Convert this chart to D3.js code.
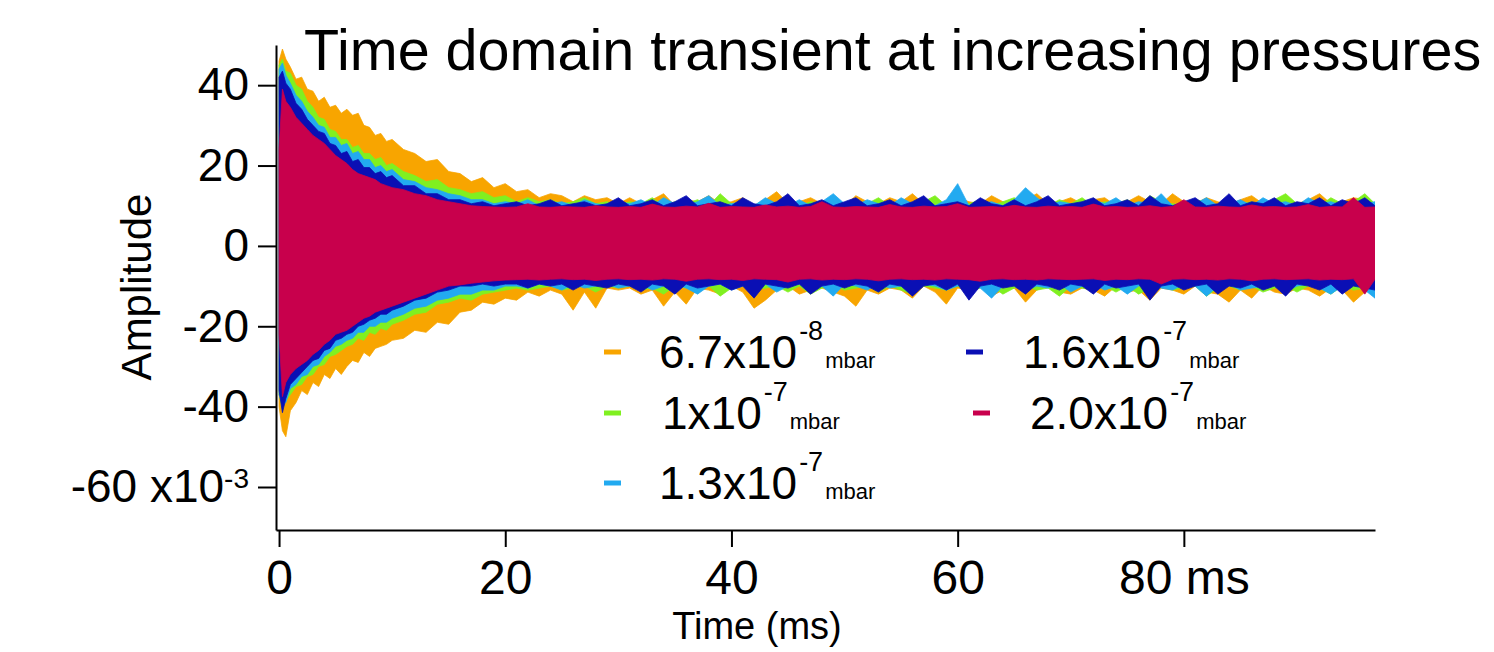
<!DOCTYPE html>
<html lang="en">
<head>
<meta charset="UTF-8" />
<script src="https://d3js.org/d3.v7.min.js"></script>
<title>Time domain transient</title>
<style>
  body { margin: 0; background: #fff; font-family: Arial, "Liberation Sans", sans-serif; }
  .axis path, .axis line { stroke: #000; stroke-width: 2; }
  .axis text { fill: #000; font-family: Arial, "Liberation Sans", sans-serif; }
</style>
</head>
<body>
<svg width="1494" height="652"></svg>
<script>
// time axis of the transient (ms)
const times = [0, 0.3, 0.6, 1, 1.5, 2, 2.5, 3, 3.5, 4, 4.5, 5, 5.5, 6, 6.5, 7, 7.5, 8, 8.5, 9, 9.5, 10,
  11, 12, 13, 14, 15, 16, 17, 18, 19, 20, 21, 22, 23, 24, 25, 26, 27, 28, 29, 30,
  31, 32, 33, 34, 35, 36, 37, 38, 39, 40, 41, 42, 43, 44, 45, 46, 47, 48, 49, 50,
  51, 52, 53, 54, 55, 56, 57, 58, 59, 60, 61, 62, 63, 64, 65, 66, 67, 68, 69, 70,
  71, 72, 73, 74, 75, 76, 77, 78, 79, 80, 81, 82, 83, 84, 85, 86, 87, 88, 89, 90,
  91, 92, 93, 94, 95, 96, 96.9];

// upper / lower envelope of each transient (x10^-3)
const orangeUp = [46, 49, 46.5, 44.5, 41.5, 42, 39, 38.5, 36, 37, 34.5, 35, 33, 34, 32.5, 33, 30, 29.5, 27.5, 28, 26, 26.5,
  24, 23, 21, 21.5, 18.5, 18, 16, 17, 14.5, 15.5, 13.5, 14, 12, 13, 12.5, 11, 12.5, 11.5, 12, 10.5,
  12, 10.5, 11.5, 13, 10, 11.5, 11, 12.5, 10.5, 11, 12, 10, 11.5, 13.5, 10.5, 11, 12, 10.5, 11.5, 10,
  12.5, 11, 10.5, 12, 11, 13, 10.5, 11.5, 10, 12, 11, 10.5, 12.5, 11, 10, 11.5, 13, 10.5, 11, 12,
  10.5, 11.5, 12, 10, 11, 12.5, 11, 10.5, 13, 11, 10.5, 12, 11, 10, 11.5, 12.5, 10.5, 11, 12, 10.5,
  11.5, 13, 10.5, 11, 12, 11.5, 10.5];
const orangeLo = [-40, -46, -47.5, -41, -39, -36, -37, -34, -35, -32, -33, -30.5, -32, -30, -28.5, -29, -26.5, -27.5, -25.5, -25, -24.5, -23.5,
  -23, -21, -21.5, -19, -19.5, -16.5, -16, -14, -14.5, -13, -13.5, -11.5, -12.5, -11, -12, -16, -11.5, -15.5, -10.5, -11,
  -10.5, -12, -11, -15, -11.5, -14.5, -10.5, -11, -12, -10, -11.5, -15.5, -13.5, -11, -10, -12, -11, -10.5, -11.5, -12.5,
  -15, -11, -12, -10.5, -11, -13, -10, -11.5, -14.5, -10.5, -11, -10, -12.5, -11, -10.5, -14, -11, -10, -11.5, -12,
  -10.5, -11, -12.5, -10, -11.5, -11, -13.5, -10.5, -11, -12, -10, -11.5, -12, -14, -11, -13, -10, -11.5, -12, -10.5,
  -11, -12.5, -10.5, -11, -14, -11.5, -10];
const greenUp = [45, 46.5, 43.5, 43, 40, 39, 36, 34.5, 32, 31.5, 29, 28.5, 26.5, 26.5, 24.5, 25, 23, 23, 21.5, 22, 20, 20.5,
  18.5, 17.5, 16, 16.5, 14.5, 14, 13, 13.5, 12, 12.5, 11, 12, 11, 11.5, 10.5, 11, 12, 10.5, 11, 10,
  11, 10.5, 12, 10, 11, 10.5, 11.5, 10, 13, 10.5, 11, 10, 11.5, 10.5, 12, 10, 11, 10.5, 12.5, 10,
  11, 10.5, 12, 10, 11.5, 10.5, 11, 12.5, 10, 11, 10.5, 11.5, 10, 11, 12, 10.5, 11, 10, 11.5, 10.5,
  12, 10, 11, 10.5, 11.5, 10, 12.5, 11, 10.5, 10, 11.5, 11, 10, 12, 10.5, 11, 10, 11.5, 13, 10.5,
  11, 10, 12, 10.5, 11, 13, 10.5];
const greenLo = [-37, -40.5, -38.5, -37, -35, -34.5, -32.5, -32, -30, -29.5, -27.5, -27, -26, -25, -24.5, -23, -23.5, -21.5, -22, -20.5, -21, -19.5,
  -18.5, -17, -16.5, -14.5, -14, -13, -13.5, -12, -11.5, -11, -10.5, -11, -10.5, -10, -11, -10.5, -10, -11.5, -10, -10.5,
  -10, -11, -10.5, -12, -10, -10.5, -11, -10, -12.5, -10.5, -10, -11, -10.5, -10, -11.5, -10, -12, -10.5, -10, -11,
  -10.5, -10, -11.5, -10, -11, -12, -10, -10.5, -11, -10, -11.5, -10.5, -10, -12, -10.5, -10, -11, -10.5, -12.5, -10,
  -10.5, -11, -10, -11.5, -10, -12, -10.5, -10, -11, -10.5, -10, -12.5, -10.5, -10, -11, -10, -11.5, -10.5, -10, -11.5,
  -10, -10.5, -12, -10, -11, -10.5, -12.5];
const lightBlueUp = [44, 45.5, 42.5, 40.5, 37.5, 36, 33.5, 32, 30, 29.5, 27, 27, 25, 25.5, 23, 23.5, 21.5, 21.5, 19.5, 20, 18.5, 19,
  16.5, 16, 14.5, 14, 13, 12.5, 11.5, 11.5, 10.5, 11, 10.5, 11.5, 10, 10.5, 11, 10, 11.5, 10.5, 10, 11,
  10.5, 11.5, 10, 12, 10.5, 10, 11, 12.5, 10, 10.5, 11, 10, 12, 10.5, 10, 11.5, 10, 11, 13, 10.5,
  10, 11.5, 10.5, 10, 12, 10.5, 11, 10, 11.5, 15.5, 10, 10.5, 11, 10, 11.5, 14.5, 12, 10, 11, 10.5,
  10, 11.5, 10.5, 12, 10, 11, 10.5, 13, 10, 11, 10.5, 12, 10, 10.5, 11.5, 10, 12, 10.5, 11, 10,
  12, 10.5, 11, 10, 11.5, 10.5, 11];
const lightBlueLo = [-37, -39.5, -39, -35.5, -34.5, -32.5, -32, -30, -29.5, -27.5, -26.5, -25, -24.5, -23.5, -23, -21.5, -21.5, -20, -20, -19, -19, -18,
  -17, -15.5, -15, -13.5, -13, -12, -12, -11, -11, -10, -10, -10.5, -9.5, -10, -11, -9.5, -10.5, -10, -9.5, -10.5,
  -10, -9.5, -11, -10, -9.5, -10.5, -12, -10, -9.5, -11, -10, -10.5, -9.5, -11.5, -10, -9.5, -10.5, -10, -12.5, -9.5,
  -10, -11, -9.5, -10.5, -10, -12, -9.5, -10, -11, -10, -9.5, -10.5, -13, -10, -9.5, -11, -10, -10.5, -9.5, -11.5,
  -10, -9.5, -11, -10, -12, -10, -9.5, -10.5, -11, -9.5, -10, -12.5, -10, -9.5, -11, -10.5, -10, -9.5, -11.5, -10,
  -9.5, -10.5, -12, -10, -9.5, -11, -13];
const darkBlueUp = [42, 43.5, 40.5, 39, 35.5, 34, 31.5, 30, 28.5, 28, 25.5, 25, 23, 23.5, 21, 21.5, 19.5, 19.5, 18, 18.5, 17, 17.5,
  15, 15, 13, 13, 11.5, 11.5, 10.5, 11, 10, 10.5, 11, 10, 10.5, 11.5, 10, 10.5, 11, 10, 10.5, 12,
  10, 10.5, 11.5, 10, 11, 12.5, 10, 10.5, 11, 10, 12, 10.5, 10, 11, 13, 10, 10.5, 11.5, 10, 11,
  12, 10, 10.5, 11.5, 10, 11, 12.5, 10, 10.5, 11, 10, 12, 10.5, 10, 11.5, 10, 11, 12.5, 10, 10.5,
  11, 12, 10, 10.5, 11.5, 10, 12.5, 10.5, 10, 11, 12, 10, 10.5, 13, 10, 11, 10.5, 12, 10, 11,
  10.5, 12, 10, 11.5, 10.5, 12, 10];
const darkBlueLo = [-36, -41.5, -38, -34.5, -33, -31.5, -30, -28.5, -28, -26, -25.5, -23.5, -23, -22, -21.5, -20, -19.5, -18.5, -18, -17, -17, -16,
  -15, -13.5, -13, -11.5, -11, -10, -10, -9.5, -10, -9.5, -9.5, -10.5, -9.5, -10, -9.5, -11, -9.5, -10, -10.5, -9.5,
  -10, -11.5, -9.5, -10, -12, -9.5, -10.5, -10, -9.5, -11, -10, -13, -9.5, -10, -10.5, -9.5, -12, -10, -9.5, -10.5,
  -9.5, -10, -11.5, -9.5, -10, -12.5, -10, -9.5, -11, -9.5, -13.5, -10, -9.5, -10.5, -10, -12, -9.5, -10, -11, -9.5,
  -10, -12, -9.5, -10.5, -10, -9.5, -13.5, -10, -9.5, -11, -10, -9.5, -12, -10, -10.5, -9.5, -11, -10, -12.5, -9.5,
  -10, -11, -9.5, -12, -10, -10.5, -11];
const crimsonUp = [24, 39, 36, 34.5, 32, 30.5, 29, 27.5, 26.5, 25.5, 24, 22.5, 21.5, 20.5, 19, 18, 17.5, 17, 16.5, 15.5, 15, 14.5,
  14, 13, 12.5, 11.5, 11, 10.5, 10, 9.8, 9.7, 9.6, 9.7, 10.5, 9.7, 9.6, 9.8, 9.7, 9.6, 10, 9.7, 9.6,
  9.8, 9.6, 10.4, 9.7, 9.6, 9.9, 9.7, 10.6, 9.6, 9.8, 9.7, 9.6, 10.2, 9.7, 9.9, 9.6, 9.8, 11, 9.7, 9.6,
  9.8, 9.7, 9.6, 10.3, 9.7, 9.6, 9.9, 9.7, 9.8, 10.5, 9.6, 9.7, 9.8, 9.6, 10.1, 9.7, 9.6, 9.9, 9.7, 9.8,
  9.6, 10.4, 9.7, 9.8, 9.6, 9.7, 10, 9.6, 9.8, 11.5, 9.7, 9.6, 9.9, 9.7, 9.6, 10.2, 9.7, 9.8, 9.6, 9.7,
  10.3, 9.6, 9.8, 9.7, 12, 9.6, 9.7];
const crimsonLo = [-22, -37.5, -34, -32, -30.5, -29.5, -28.5, -27, -26, -24.5, -23.5, -22, -21.5, -21, -20, -19, -18, -17.5, -16.5, -16, -15.5, -15,
  -14, -13, -12, -11, -10, -9.7, -9.3, -9, -8.7, -8.5, -8.4, -8.3, -8.5, -8.3, -8.2, -8.4, -8.3, -8.6, -8.3, -8.2,
  -8.4, -8.3, -8.5, -8.2, -8.3, -8.8, -8.3, -8.2, -8.4, -8.3, -8.6, -8.2, -8.3, -8.4, -9, -8.3, -8.2, -8.5, -8.3, -8.4,
  -8.2, -8.3, -8.7, -8.3, -8.2, -8.4, -8.3, -8.5, -8.2, -8.3, -8.4, -8.8, -8.3, -8.2, -8.4, -8.3, -8.5, -8.2, -8.3, -8.4,
  -8.3, -8.2, -8.6, -8.3, -8.4, -8.2, -8.3, -9.5, -8.3, -8.2, -8.4, -8.3, -8.5, -8.2, -8.3, -8.7, -8.3, -8.2, -8.4, -8.3,
  -8.2, -8.5, -8.3, -8.4, -8.2, -12, -8.3];

const labels = ["6.7x10", "1x10", "1.3x10", "1.6x10", "2.0x10"];
const exponents = ["-8", "-7", "-7", "-7", "-7"];
const unit = "mbar";
const colors = ["#f8a500", "#80f020", "#22aaf0", "#0a0fb4", "#c8004c"];

const xTicks = [0, 20, 40, 60, 80];
const yTicks = [-60, -40, -20, 0, 20, 40];

const series = [
  { up: orangeUp, lo: orangeLo },
  { up: greenUp, lo: greenLo },
  { up: lightBlueUp, lo: lightBlueLo },
  { up: darkBlueUp, lo: darkBlueLo },
  { up: crimsonUp, lo: crimsonLo },
];

const svg = d3.select("svg");
const plotLeft = 276, plotRight = 1375, plotTop = 45, plotBottom = 530;

const x = d3.scaleLinear().domain([-0.27, 96.9]).range([plotLeft, plotRight]);
const y = d3.scaleLinear().domain([-70.7, 50]).range([plotBottom, plotTop]);

svg.append("clipPath").attr("id", "plot")
  .append("rect").attr("x", plotLeft).attr("y", plotTop)
  .attr("width", plotRight - plotLeft).attr("height", plotBottom - plotTop);

const area = d3.area()
  .x((d, i) => x(times[i]))
  .y0(d => y(d[0]))
  .y1(d => y(d[1]));

svg.append("g").attr("clip-path", "url(#plot)")
  .selectAll("path")
  .data(series)
  .join("path")
  .attr("d", s => area(s.lo.map((v, i) => [v, s.up[i]])))
  .attr("fill", (s, i) => colors[i])
  .attr("stroke", (s, i) => colors[i])
  .attr("stroke-width", 0.8);

// axes
const yAxis = svg.append("g").attr("class", "axis")
  .attr("transform", `translate(${plotLeft},0)`)
  .call(d3.axisLeft(y).tickValues(yTicks).tickSizeInner(18).tickSizeOuter(0).tickPadding(9)
    .tickFormat(d => d));
yAxis.selectAll("text").style("font-size", "46px");
yAxis.selectAll(".tick").filter(d => d === -60).select("text")
  .text(null)
  .call(t => {
    t.append("tspan").text("-60 x10");
    t.append("tspan").attr("dy", "-0.5em").style("font-size", "28px").text("-3");
  });

const xAxis = svg.append("g").attr("class", "axis")
  .attr("transform", `translate(0,${plotBottom})`)
  .call(d3.axisBottom(x).tickValues(xTicks).tickSizeInner(17).tickSizeOuter(0).tickPadding(13)
    .tickFormat(d => d === 80 ? "80 ms" : d));
xAxis.selectAll("text").style("font-size", "48px");

// titles
svg.append("text")
  .attr("x", 304).attr("y", 70)
  .style("font-size", "57.5px")
  .text("Time domain transient at increasing pressures");

svg.append("text")
  .attr("transform", "translate(151,287) rotate(-90)")
  .attr("text-anchor", "middle")
  .style("font-size", "42px")
  .text("Amplitude");

svg.append("text")
  .attr("x", 757).attr("y", 639)
  .attr("text-anchor", "middle")
  .style("font-size", "38px")
  .text("Time (ms)");

// legend
const legendPos = [
  { mx: 604, tx: 659, y: 352 },
  { mx: 604, tx: 662, y: 413 },
  { mx: 604, tx: 659, y: 483 },
  { mx: 966, tx: 1023, y: 352 },
  { mx: 973, tx: 1030, y: 413 },
];
const legend = svg.append("g");
labels.forEach((lab, i) => {
  const p = legendPos[i];
  legend.append("line")
    .attr("x1", p.mx).attr("x2", p.mx + 17)
    .attr("y1", p.y).attr("y2", p.y)
    .attr("stroke", colors[i]).attr("stroke-width", 5);
  const t = legend.append("text")
    .attr("x", p.tx).attr("y", p.y + 16)
    .style("font-size", "46px");
  t.append("tspan").text(lab);
  t.append("tspan").attr("dy", -28).attr("dx", 2).style("font-size", "27px").text(exponents[i]);
  t.append("tspan").attr("dy", 28).attr("dx", 2).style("font-size", "22px").text(unit);
});
</script>
</body>
</html>
